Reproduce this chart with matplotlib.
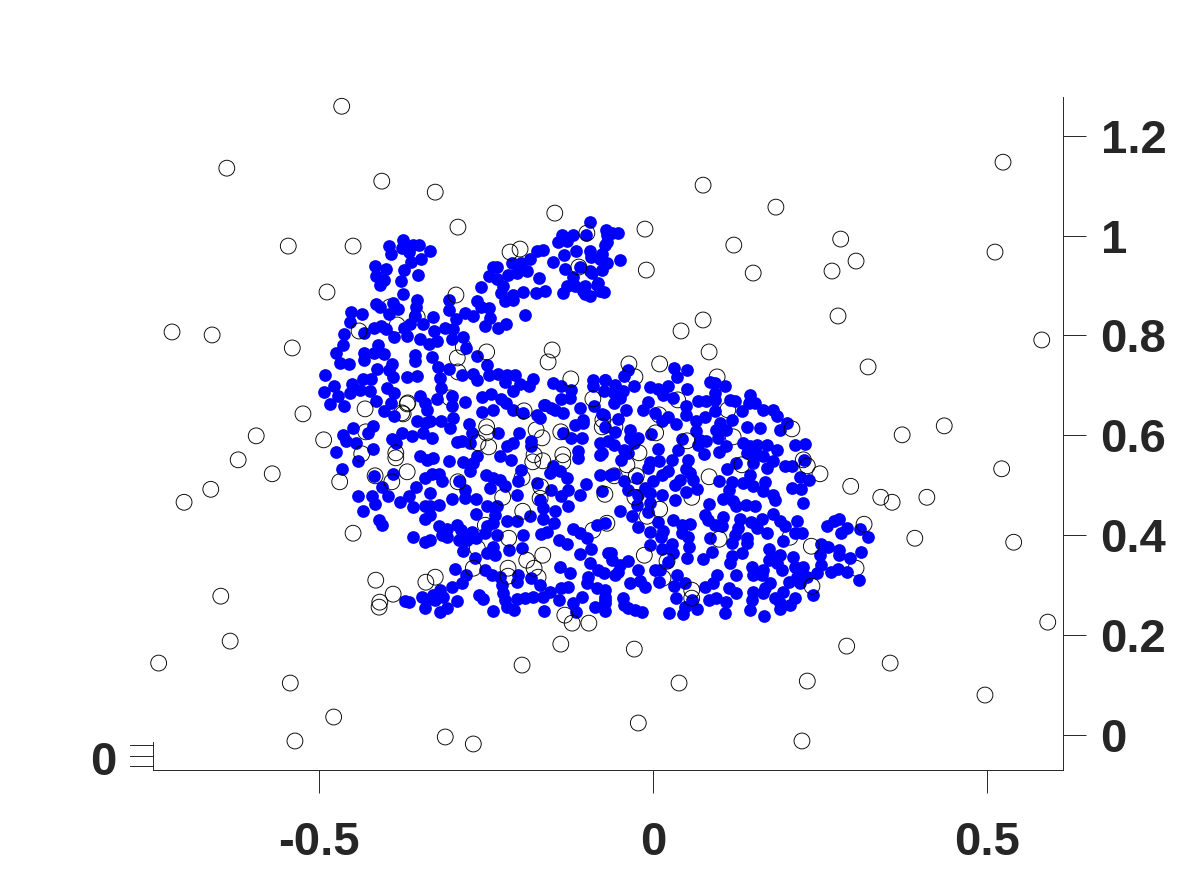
import numpy as np
import matplotlib
matplotlib.use("Agg")
import matplotlib.pyplot as plt

x_ticks = [-0.5, 0, 0.5]
x_tick_labels = ["-0.5", "0", "0.5"]
y_ticks = [0, 0.2, 0.4, 0.6, 0.8, 1.0, 1.2]
y_tick_labels = ["0", "0.2", "0.4", "0.6", "0.8", "1", "1.2"]

# open circles that sit behind the blue points
black_under = [
    (-0.394,0.857),(-0.353,0.837),(-0.383,0.821),(-0.284,0.777),(-0.293,0.755),(-0.292,0.727),
    (-0.304,0.675),(-0.376,0.645),(-0.374,0.643),(-0.367,0.665),(-0.430,0.607),(-0.416,0.519),
    (-0.368,0.527),(-0.251,0.420),(-0.263,0.374),(-0.196,0.515),(-0.169,0.474),(-0.180,0.547),
    (-0.135,0.561),(-0.135,0.547),(-0.175,0.611),(-0.166,0.595),(-0.075,0.631),(-0.090,0.410),
    (-0.172,0.316),(-0.027,0.717),(0.096,0.717),(0.037,0.671),(0.009,0.641),(0.112,0.651),
    (0.120,0.597),(-0.039,0.541),(-0.058,0.519),(-0.057,0.617),(0.250,0.523),(0.084,0.517),
    (0.058,0.476),(-0.009,0.438),(0.205,0.396),(0.015,0.314),(0.304,0.334),(-0.069,0.424),
]
# open circles drawn over the blue points, or out in the clear
black_over = [
    (-0.466,1.259),(-0.638,1.135),(-0.406,1.109),(-0.326,1.087),(-0.546,0.979),(-0.449,0.979),
    (-0.292,1.017),(-0.488,0.887),(-0.720,0.807),(-0.660,0.801),(-0.540,0.775),(-0.524,0.643),
    (-0.594,0.599),(-0.621,0.551),(-0.493,0.591),(-0.570,0.523),(-0.662,0.492),(-0.702,0.466),
    (-0.469,0.507),(-0.449,0.404),(-0.647,0.278),(-0.633,0.188),(-0.740,0.144),(-0.543,0.104),
    (-0.478,0.036),(-0.536,-0.012),(-0.311,-0.004),(-0.269,-0.018),(-0.415,0.310),(-0.409,0.266),
    (-0.410,0.256),(-0.389,0.282),(-0.340,0.306),(-0.326,0.316),
    (0.075,1.101),(0.184,1.057),(0.121,0.981),(0.150,0.925),(0.281,0.993),(0.268,0.929),
    (0.304,0.949),(0.277,0.839),(0.512,0.967),(0.524,1.147),(0.582,0.791),(0.322,0.737),
    (0.373,0.601),(0.436,0.619),(0.522,0.533),(0.296,0.498),(0.341,0.476),(0.358,0.466),
    (0.410,0.476),(0.392,0.394),(0.540,0.386),(0.591,0.226),(0.497,0.080),(0.355,0.144),
    (0.290,0.178),(0.231,0.108),(0.223,-0.012),(-0.022,0.024),(0.039,0.104),(-0.028,0.172),
    (-0.196,0.140),(-0.138,0.182),(-0.096,0.224),(-0.121,0.224),(-0.132,0.240),(-0.012,1.013),
    (-0.010,0.931),(0.042,0.809),(0.075,0.831),(-0.147,1.045),(0.084,0.767),
    (-0.214,0.967),(-0.199,0.973),(-0.099,1.005),(-0.111,0.937),(-0.295,0.881),(-0.440,0.809),
    (-0.249,0.767),(-0.151,0.771),(-0.157,0.747),(-0.123,0.713),(-0.090,0.673),(-0.368,0.663),
    (-0.431,0.653),(-0.193,0.649),(-0.391,0.507),(-0.385,0.565),(-0.385,0.555),(-0.436,0.563),
    (-0.292,0.507),(-0.262,0.585),(-0.249,0.617),(-0.249,0.605),(-0.246,0.577),(-0.225,0.476),
    (-0.195,0.448),(-0.216,0.394),(-0.168,0.497),(-0.178,0.561),(-0.165,0.549),(-0.138,0.607),
    (-0.076,0.617),(-0.072,0.482),(-0.269,0.334),(-0.217,0.334),(-0.217,0.318),(-0.189,0.350),
    (-0.178,0.334),(-0.165,0.360),(-0.036,0.743),(0.010,0.743),(0.208,0.613),(0.004,0.605),
    (0.051,0.589),(-0.021,0.565),(-0.025,0.519),(0.133,0.541),(0.225,0.551),(0.231,0.539),
    (0.010,0.452),(-0.027,0.476),(0.316,0.422),(0.099,0.392),(0.237,0.378),(-0.013,0.360),
    (0.021,0.348),(0.058,0.290),(0.058,0.274),(0.238,0.298),
]

blue_ear_left = [
    (-0.395,0.980),(-0.392,0.963),(-0.374,0.992),(-0.375,0.975),(-0.359,0.982),(-0.350,0.982),
    (-0.365,0.968),(-0.334,0.969),(-0.348,0.953),(-0.362,0.948),(-0.373,0.932),(-0.352,0.921),
    (-0.416,0.940),(-0.400,0.934),(-0.414,0.920),(-0.403,0.912),(-0.409,0.902),(-0.377,0.910),
    (-0.374,0.883),
]
blue_head = [
    (-0.353,0.872),(-0.355,0.857),(-0.414,0.864),(-0.408,0.858),(-0.389,0.866),(-0.382,0.852),
    (-0.395,0.843),(-0.452,0.847),(-0.436,0.843),(-0.454,0.827),(-0.329,0.836),(-0.357,0.838),
    (-0.364,0.822),(-0.344,0.822),(-0.372,0.815),(-0.417,0.815),(-0.407,0.818),(-0.399,0.812),
    (-0.463,0.802),(-0.432,0.805),(-0.387,0.796),(-0.369,0.798),(-0.349,0.793),(-0.328,0.808),
    (-0.312,0.815),(-0.300,0.812),(-0.335,0.782),(-0.324,0.788),(-0.301,0.792),(-0.284,0.797),
    (-0.280,0.775),(-0.464,0.780),(-0.474,0.765),(-0.469,0.745),(-0.455,0.743),(-0.412,0.780),
    (-0.433,0.765),(-0.417,0.765),(-0.402,0.762),(-0.433,0.750),(-0.390,0.743),(-0.413,0.733),
    (-0.395,0.731),(-0.389,0.716),(-0.357,0.760),(-0.356,0.749),(-0.331,0.757),(-0.322,0.737),
    (-0.306,0.733),(-0.368,0.717),(-0.353,0.719),(-0.319,0.715),(-0.491,0.721),(-0.478,0.699),
    (-0.493,0.687),(-0.472,0.678),(-0.483,0.663),(-0.463,0.659),(-0.451,0.703),(-0.434,0.713),
    (-0.422,0.713),(-0.453,0.685),(-0.439,0.691),(-0.424,0.688),(-0.414,0.668),(-0.398,0.695),
    (-0.387,0.685),(-0.392,0.665),(-0.402,0.648),(-0.349,0.679),(-0.342,0.665),(-0.338,0.650),
    (-0.324,0.673),(-0.317,0.695),(-0.301,0.678),(-0.281,0.667),(-0.301,0.659),(-0.263,0.759),
    (-0.248,0.740),(-0.246,0.721),(-0.232,0.723),(-0.219,0.721),(-0.207,0.721),(-0.222,0.706),
    (-0.199,0.703),(-0.179,0.713),(-0.185,0.698),(-0.209,0.688),(-0.269,0.723),(-0.264,0.710),
    (-0.286,0.721),
]
blue_ear_right = [
    (-0.305,0.872),(-0.306,0.850),(-0.295,0.833),(-0.282,0.845),(-0.270,0.838),(-0.263,0.870),
    (-0.257,0.858),(-0.246,0.855),(-0.244,0.835),(-0.251,0.818),(-0.232,0.815),(-0.220,0.823),
    (-0.191,0.841),(-0.257,0.897),(-0.239,0.937),(-0.233,0.937),(-0.246,0.920),(-0.233,0.913),
    (-0.224,0.900),(-0.227,0.886),(-0.222,0.870),(-0.210,0.882),(-0.209,0.872),(-0.194,0.888),
    (-0.175,0.885),(-0.161,0.889),(-0.170,0.915),(-0.188,0.929),(-0.204,0.925),(-0.217,0.921),
    (-0.197,0.945),(-0.211,0.945),(-0.184,0.953),(-0.174,0.969),(-0.165,0.972),(-0.149,0.947),
    (-0.133,0.962),(-0.132,0.933),(-0.115,0.969),(-0.136,1.002),(-0.142,0.987),(-0.119,1.002),
    (-0.129,0.989),(-0.109,0.938),(-0.119,0.917),(-0.129,0.900),(-0.135,0.886),(-0.095,1.027),
    (-0.100,1.002),(-0.095,0.970),(-0.093,0.957),(-0.076,0.964),(-0.076,0.931),(-0.092,0.925),
    (-0.102,0.900),(-0.102,0.883),(-0.084,0.902),(-0.073,0.888),(-0.069,1.002),(-0.069,0.987),
    (-0.070,1.012),(-0.052,1.005),(-0.072,0.981),(-0.049,0.951),(-0.079,0.953),(-0.079,0.890),
    (-0.082,0.906),(-0.105,0.890),(-0.094,0.930),(-0.069,0.946),(-0.061,1.005),(-0.094,0.880),
    (-0.117,0.900),
]
blue_neck = [
    (-0.256,0.677),(-0.242,0.683),(-0.227,0.673),(-0.220,0.665),(-0.209,0.651),(-0.256,0.647),
    (-0.240,0.651),(-0.162,0.661),(-0.150,0.705),(-0.138,0.698),(-0.122,0.691),(-0.138,0.673),
    (-0.124,0.675),(-0.109,0.655),(-0.090,0.711),(-0.090,0.698),(-0.072,0.710),(-0.074,0.688),
    (-0.089,0.659),(-0.147,0.651),(-0.134,0.645),(-0.077,0.643),(-0.174,0.641),(-0.194,0.645),
    (-0.387,0.638),(-0.354,0.628),(-0.334,0.628),(-0.317,0.628),(-0.300,0.635),(-0.105,0.631),
]
blue_front = [
    (-0.449,0.615),(-0.464,0.601),(-0.459,0.588),(-0.419,0.618),(-0.426,0.605),(-0.444,0.585),
    (-0.419,0.573),(-0.475,0.566),(-0.441,0.549),(-0.465,0.532),(-0.391,0.593),(-0.384,0.585),
    (-0.375,0.605),(-0.361,0.598),(-0.341,0.625),(-0.344,0.605),(-0.331,0.595),(-0.304,0.615),
    (-0.276,0.623),(-0.271,0.605),(-0.294,0.586),(-0.286,0.588),(-0.274,0.585),(-0.264,0.558),
    (-0.284,0.546),(-0.269,0.544),(-0.274,0.528),(-0.306,0.549),(-0.349,0.559),(-0.339,0.551),
    (-0.329,0.554),(-0.417,0.518),(-0.389,0.523),(-0.406,0.496),(-0.396,0.478),(-0.355,0.496),
    (-0.366,0.479),(-0.379,0.466),(-0.360,0.456),(-0.341,0.514),(-0.331,0.523),(-0.320,0.523),
    (-0.316,0.509),(-0.334,0.484),(-0.341,0.458),(-0.334,0.458),(-0.320,0.460),(-0.334,0.441),
    (-0.341,0.433),(-0.442,0.478),(-0.420,0.479),(-0.416,0.462),(-0.434,0.449),(-0.410,0.430),
    (-0.405,0.420),(-0.301,0.473),(-0.281,0.490),(-0.281,0.474),(-0.290,0.508),(-0.265,0.473),
    (-0.250,0.521),(-0.239,0.514),(-0.229,0.511),(-0.244,0.494),(-0.249,0.459),(-0.202,0.508),
    (-0.222,0.499),(-0.203,0.481),(-0.265,0.443),(-0.234,0.458),(-0.237,0.441),(-0.239,0.424),
    (-0.219,0.428),(-0.204,0.428),(-0.184,0.438),(-0.321,0.418),(-0.309,0.413),(-0.293,0.421),
    (-0.316,0.401),(-0.309,0.396),(-0.360,0.397),(-0.341,0.387),(-0.334,0.391),(-0.288,0.411),
    (-0.271,0.407),(-0.291,0.391),(-0.278,0.391),(-0.265,0.394),(-0.284,0.369),(-0.251,0.404),
    (-0.234,0.401),(-0.249,0.418),(-0.195,0.401),(-0.239,0.377),(-0.249,0.364),(-0.237,0.361),
    (-0.215,0.371),(-0.196,0.375),(-0.266,0.354),(-0.296,0.333),(-0.280,0.321),(-0.286,0.304),
    (-0.301,0.297),(-0.251,0.331),(-0.241,0.321),(-0.229,0.317),(-0.226,0.301),(-0.202,0.321),
    (-0.203,0.307),(-0.319,0.291),(-0.329,0.281),(-0.346,0.277),(-0.339,0.271),(-0.326,0.271),
    (-0.314,0.277),(-0.341,0.254),(-0.319,0.247),(-0.309,0.254),(-0.293,0.269),(-0.371,0.269),
    (-0.365,0.266),(-0.261,0.281),(-0.254,0.272),(-0.239,0.249),(-0.224,0.284),(-0.222,0.271),
    (-0.219,0.256),(-0.208,0.251),(-0.203,0.272),(-0.192,0.274),(-0.179,0.277),(-0.164,0.277),
    (-0.154,0.287),(-0.163,0.249),(-0.182,0.314),(-0.169,0.301),(-0.140,0.271),(-0.137,0.294),
    (-0.127,0.297),(-0.119,0.264),(-0.107,0.277),(-0.116,0.247),(-0.087,0.257),(-0.099,0.304),
    (-0.097,0.317),(-0.094,0.344),(-0.082,0.331),(-0.084,0.294),(-0.072,0.271),(-0.072,0.291),
    (-0.139,0.337),(-0.124,0.324),(-0.110,0.363),(-0.093,0.372),(-0.140,0.391),(-0.129,0.383),
    (-0.119,0.413),(-0.109,0.404),(-0.099,0.394),(-0.084,0.421),(-0.072,0.424),(-0.067,0.364),
    (-0.232,0.605),(-0.229,0.558),(-0.219,0.578),(-0.200,0.605),(-0.209,0.585),(-0.212,0.551),
    (-0.197,0.531),(-0.182,0.588),(-0.182,0.578),(-0.163,0.661),(-0.169,0.635),(-0.152,0.655),
    (-0.117,0.621),(-0.105,0.625),(-0.122,0.595),(-0.107,0.595),(-0.149,0.538),(-0.139,0.528),
    (-0.129,0.514),(-0.154,0.524),(-0.152,0.491),(-0.127,0.491),(-0.137,0.478),(-0.127,0.459),
    (-0.146,0.448),(-0.164,0.433),(-0.148,0.424),(-0.169,0.471),(-0.164,0.454),(-0.159,0.407),
    (-0.168,0.402),(-0.174,0.504),(-0.109,0.481),(-0.101,0.502),(-0.079,0.521),(-0.079,0.585),
    (-0.080,0.561),(-0.112,0.568),(-0.112,0.554),(-0.064,0.521),(-0.077,0.488),(-0.067,0.588),
    (-0.134,0.605),
]
blue_back = [
    (0.032,0.735),(0.051,0.731),(0.036,0.717),(-0.043,0.719),(-0.037,0.731),(-0.072,0.711),
    (-0.029,0.699),(-0.057,0.701),(-0.004,0.697),(0.008,0.693),(0.023,0.699),(0.051,0.693),
    (0.015,0.681),(0.030,0.675),(-0.059,0.685),(-0.045,0.688),(-0.059,0.665),(-0.049,0.675),
    (-0.007,0.666),(-0.015,0.650),(-0.040,0.650),(0.003,0.645),(0.013,0.628),(0.023,0.637),
    (0.034,0.623),(-0.052,0.633),(-0.074,0.641),(-0.072,0.617),(-0.057,0.607),(-0.035,0.611),
    (-0.034,0.595),(-0.023,0.595),(-0.029,0.584),(-0.003,0.603),(0.043,0.593),(0.008,0.573),
    (0.038,0.570),(0.029,0.551),(0.053,0.551),(0.009,0.549),(-0.005,0.546),(-0.008,0.534),
    (-0.058,0.581),(-0.044,0.571),(-0.048,0.551),(-0.037,0.564),(-0.077,0.564),(-0.059,0.523),
    (-0.043,0.508),(-0.037,0.491),(-0.024,0.514),(0.023,0.528),(0.013,0.521),(0.000,0.508),
    (-0.012,0.494),(-0.022,0.481),(-0.004,0.484),(0.013,0.481),(-0.004,0.464),(-0.024,0.460),
    (-0.049,0.449),(-0.032,0.438),(-0.007,0.446),(0.033,0.471),(-0.023,0.416),(0.008,0.426),
    (-0.004,0.406),(0.015,0.409),(0.012,0.397),(0.030,0.431),(0.055,0.423),(0.043,0.421),
    (0.043,0.404),(0.053,0.397),(0.054,0.377),(-0.004,0.381),(0.014,0.372),(0.029,0.383),
    (0.030,0.364),(0.022,0.347),(0.051,0.354),(0.075,0.352),(0.089,0.366),(-0.063,0.365),
    (-0.062,0.351),(-0.037,0.349),(-0.049,0.341),(-0.052,0.327),(-0.057,0.321),(-0.022,0.331),
    (0.003,0.331),(0.010,0.331),(-0.074,0.324),(-0.035,0.304),(-0.019,0.309),(-0.012,0.296),
    (0.009,0.306),(0.036,0.321),(0.031,0.299),(0.048,0.304),(0.078,0.297),(0.090,0.304),
    (0.096,0.321),(0.125,0.321),(0.114,0.294),(0.125,0.284),(0.035,0.274),(0.048,0.257),
    (0.045,0.242),(0.024,0.244),(0.066,0.252),(0.058,0.271),(0.084,0.271),(0.095,0.274),
    (0.109,0.267),(0.108,0.244),(-0.045,0.275),(-0.044,0.261),(-0.037,0.255),(-0.027,0.250),
    (-0.016,0.246),(-0.072,0.277),(-0.072,0.264),(-0.072,0.249),
]
blue_rump = [
    (0.085,0.706),(0.093,0.705),(0.108,0.699),(0.093,0.685),(0.068,0.668),(0.080,0.669),
    (0.093,0.671),(0.050,0.658),(0.049,0.641),(0.065,0.628),(0.078,0.637),(0.093,0.648),
    (0.115,0.671),(0.123,0.668),(0.145,0.681),(0.143,0.665),(0.153,0.665),(0.165,0.651),
    (0.180,0.650),(0.185,0.638),(0.200,0.625),(0.190,0.611),(0.160,0.615),(0.140,0.617),
    (0.133,0.648),(0.118,0.631),(0.100,0.625),(0.095,0.611),(0.110,0.611),(0.065,0.608),
    (0.070,0.591),(0.080,0.588),(0.068,0.581),(0.098,0.595),(0.110,0.578),(0.099,0.566),
    (0.077,0.563),(0.135,0.585),(0.145,0.578),(0.155,0.581),(0.170,0.581),(0.185,0.571),
    (0.140,0.564),(0.155,0.561),(0.165,0.558),(0.180,0.548),(0.170,0.534),(0.150,0.544),
    (0.125,0.544),(0.111,0.532),(0.198,0.538),(0.208,0.538),(0.213,0.580),(0.227,0.582),
    (0.226,0.550),(0.220,0.516),(0.234,0.511),(0.208,0.494),(0.222,0.492),(0.225,0.464),
    (0.145,0.521),(0.135,0.504),(0.150,0.498),(0.118,0.506),(0.114,0.491),(0.168,0.506),
    (0.165,0.488),(0.180,0.481),(0.183,0.471),(0.105,0.473),(0.120,0.468),(0.124,0.458),
    (0.139,0.460),(0.153,0.458),(0.099,0.509),(0.049,0.532),(0.033,0.501),(0.040,0.511),
    (0.049,0.486),(0.066,0.492),(0.055,0.524),(0.060,0.511),(0.084,0.463),(0.078,0.441),
    (0.083,0.431),(0.105,0.436),(0.093,0.421),(0.103,0.418),(0.131,0.433),(0.128,0.414),
    (0.146,0.426),(0.163,0.433),(0.155,0.414),(0.170,0.405),(0.123,0.401),(0.118,0.384),
    (0.140,0.394),(0.140,0.384),(0.085,0.394),(0.180,0.443),(0.190,0.428),(0.198,0.419),
    (0.216,0.429),(0.213,0.404),(0.223,0.404),(0.195,0.389),
    (0.260,0.419),(0.271,0.428),(0.279,0.433),(0.290,0.414),(0.282,0.404),(0.310,0.412),
    (0.322,0.397),(0.252,0.382),(0.262,0.377),(0.279,0.371),(0.279,0.361),(0.312,0.367),
    (0.250,0.361),(0.295,0.354),(0.252,0.341),(0.245,0.324),(0.267,0.327),(0.277,0.332),
    (0.290,0.327),(0.309,0.311),(0.173,0.372),(0.180,0.357),(0.190,0.361),(0.173,0.351),
    (0.185,0.344),(0.193,0.331),(0.210,0.357),(0.225,0.337),(0.213,0.337),(0.215,0.317),
    (0.148,0.337),(0.165,0.331),(0.150,0.321),(0.163,0.321),(0.175,0.304),(0.168,0.294),
    (0.165,0.284),(0.149,0.287),(0.148,0.271),(0.145,0.251),(0.166,0.238),(0.183,0.274),
    (0.195,0.287),(0.203,0.307),(0.190,0.264),(0.190,0.252),(0.205,0.261),(0.212,0.274),
    (0.240,0.281),(0.230,0.317),(0.220,0.304),(0.118,0.359),(0.115,0.344),(0.134,0.364),
]


def draw_open(ax, points, zorder):
    pts = np.array(points)
    ax.scatter(pts[:, 0], pts[:, 1], s=130, facecolors="none", edgecolors="black",
               linewidths=0.65, zorder=zorder, clip_on=False)


def main():
    fig = plt.figure(figsize=(11.78, 8.69), dpi=100)
    ax = fig.add_axes([153 / 1178, 99 / 869, 910 / 1178, 673 / 869])

    draw_open(ax, black_under, 2)
    blue = np.array(blue_ear_left + blue_head + blue_ear_right + blue_neck + blue_front + blue_back + blue_rump)
    ax.scatter(blue[:, 0], blue[:, 1], s=84, color="#0000ff", linewidths=0, zorder=3)
    draw_open(ax, black_over, 4)

    ax.set_xlim(-0.7485, 0.6138)
    ax.set_ylim(-0.0701, 1.2775)

    line_color = "#262626"
    for side in ["top", "left"]:
        ax.spines[side].set_visible(False)
    for side in ["bottom", "right"]:
        ax.spines[side].set_color(line_color)
        ax.spines[side].set_linewidth(0.7)

    ax.set_xticks(x_ticks)
    ax.set_xticklabels(x_tick_labels)
    ax.set_yticks(y_ticks)
    ax.set_yticklabels(y_tick_labels)
    ax.yaxis.tick_right()
    font = {"family": "Liberation Sans", "weight": "bold", "size": 34}
    for label in ax.get_xticklabels() + ax.get_yticklabels():
        label.set(**font, color=line_color)
    ax.tick_params(axis="x", length=16.5, width=0.7, color=line_color, pad=20)
    ax.tick_params(axis="y", length=16.5, width=0.7, color=line_color, pad=10.5)

    # leftover z axis of the 3d view
    for frac in [0.0059, 0.0208, 0.0371]:
        ax.plot([-0.0253, 0], [frac, frac], color=line_color, lw=0.7,
                transform=ax.transAxes, clip_on=False)
    ax.plot([0, 0], [0, 0.0416], color=line_color, lw=0.7, transform=ax.transAxes, clip_on=False)
    ax.text(-0.0549, 0.0103, "0", transform=ax.transAxes, ha="center", va="center",
            color=line_color, **font)

    fig.savefig("out.png", dpi=100)


if __name__ == "__main__":
    main()
